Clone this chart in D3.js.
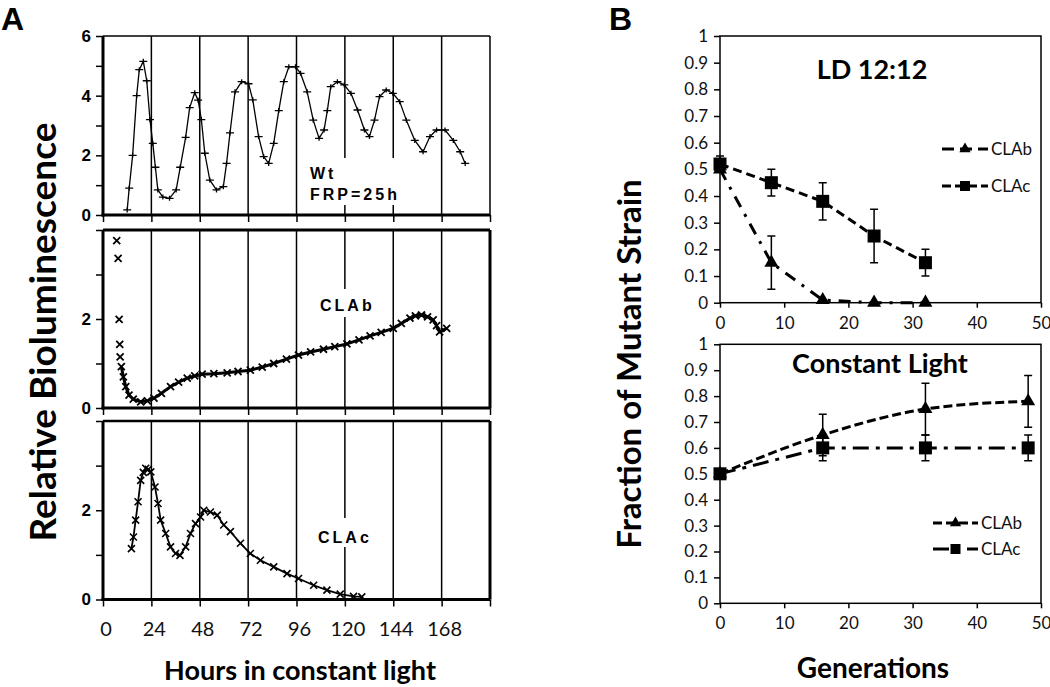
<!DOCTYPE html>
<html><head><meta charset="utf-8">
<script src="https://cdn.jsdelivr.net/npm/d3@7"></script>
<style>body{margin:0;background:#fff} svg{display:block}</style>
</head><body>
<svg id="c" width="1050" height="687"></svg>
<script>
// ---------- Panel A data (hours, relative bioluminescence) ----------
const hourTicks = [0, 24, 48, 72, 96, 120, 144, 168, 192];
const hourLabels = ["0", "24", "48", "72", "96", "120", "144", "168", ""];
const wtSeries = [[12,0.17],[13,0.9],[14.7,2.0],[16.7,4.0],[18,4.87],[20,5.15],[21.7,4.5],[23.3,3.2],[24.7,2.4],[26,1.6],[27.2,0.84],[29.7,0.6],[33,0.56],[36.3,0.84],[38.3,1.6],[41,2.6],[43,3.6],[45.5,4.1],[47.2,3.85],[48.8,3.2],[50.5,2.07],[53,1.17],[56.3,0.84],[59.7,0.95],[61.3,1.73],[63,2.75],[65.5,4.13],[68.8,4.47],[72.2,4.4],[74.3,3.86],[77.2,2.63],[79.7,1.96],[82.2,1.73],[84.7,2.4],[87.2,3.5],[89.7,4.47],[92.2,4.97],[95.5,4.97],[98,4.75],[101.3,4.13],[104.3,3.18],[107.2,2.57],[109.7,2.85],[111.3,3.5],[113,4.3],[116.3,4.47],[119.7,4.36],[123,4.08],[126.3,3.52],[129.7,2.85],[132.2,2.63],[134.7,3.18],[137.2,3.97],[140.5,4.19],[143.8,4.08],[147.2,3.8],[150.5,3.18],[154.7,2.5],[158.8,2.12],[162.2,2.63],[165.5,2.85],[169.7,2.85],[173.8,2.5],[177.2,2.12],[179.7,1.73]];
const clabEarly = [[6.8,3.76],[7.5,3.36],[8,1.99],[8.3,1.43],[8.5,1.15]];
const clabSeries = [[9.1,0.93],[10.1,0.70],[11.3,0.48],[12.9,0.29],[15,0.2],[18.7,0.14],[22,0.16],[25.3,0.22],[29,0.33],[33.5,0.48],[37.5,0.58],[41.8,0.67],[45.5,0.72],[49.2,0.76],[55,0.77],[61.6,0.79],[67,0.82],[73.1,0.85],[79,0.92],[84.7,1.0],[91,1.1],[97,1.19],[103,1.26],[109.4,1.32],[115,1.38],[121,1.44],[127,1.53],[132.5,1.62],[138,1.7],[144,1.79],[148,1.9],[152.3,2.02],[155,2.07],[158,2.09],[161,2.05],[163.8,1.98],[165.5,1.85],[167,1.71],[170.5,1.79]];
const clacSeries = [[14.1,1.14],[15.1,1.40],[16.2,1.78],[17.4,2.19],[18.7,2.67],[20,2.85],[21.2,2.94],[22.5,2.92],[23.7,2.86],[25.8,2.52],[27.3,2.15],[28.6,1.78],[31.1,1.48],[33.5,1.18],[36,1.03],[38.2,0.99],[41,1.18],[43.4,1.48],[45.9,1.70],[48.4,1.85],[50,2.0],[53.3,1.96],[56.7,1.89],[59.9,1.67],[63.2,1.52],[68.2,1.26],[73.1,1.03],[78.1,0.88],[84.7,0.73],[91.3,0.58],[97,0.47],[104.5,0.32],[111.1,0.21],[117.7,0.12],[124.3,0.07],[128.4,0.06]];

// ---------- Panel B data ----------
const genTicks = [0, 10, 20, 30, 40, 50];
const fracTicks = [0, 0.1, 0.2, 0.3, 0.4, 0.5, 0.6, 0.7, 0.8, 0.9, 1];
const ldGenerations = [0, 8, 16, 24, 32];
const ldClabMean = [0.50, 0.15, 0.01, 0.0, 0.0];
const ldClabErr = [0, 0.10, 0, 0, 0];
const ldClacMean = [0.52, 0.45, 0.38, 0.25, 0.15];
const ldClacErr = [0.03, 0.05, 0.07, 0.10, 0.05];
const clGenerations = [0, 16, 32, 48];
const clClabMean = [0.50, 0.65, 0.75, 0.78];
const clClabErr = [0, 0.08, 0.10, 0.10];
const clClacMean = [0.50, 0.60, 0.60, 0.60];
const clClacErr = [0, 0.05, 0.05, 0.05];

const svg = d3.select("#c");
const ARIAL = "'Liberation Sans', Arial, sans-serif";
const CAL = "Lato, 'Open Sans', sans-serif";

// ================= PANEL A =================
const xA = d3.scaleLinear().domain([0, 192]).range([103, 490]);
const subs = [
  {dom: 6, r: [215, 36], labels: [0, 2, 4, 6], data: wtSeries, marker: "plus", lw: 1.3, ms: 1.3,
   border: {top: 1.5, right: 1.5}, text: ["Wt", "FRP=25h"], tx: 310, ty: [179, 200], bg: [306, 158, 98, 47]},
  {dom: 4, r: [408, 230], labels: [0, 2], data: clabSeries, early: clabEarly, marker: "x", lw: 3, ms: 1.8,
   border: {top: 3, right: 3}, text: ["CLAb"], tx: 320, ty: [311], bg: [318, 289, 58, 28]},
  {dom: 4, r: [599.5, 421], labels: [0, 2], data: clacSeries, marker: "x", lw: 1.8, ms: 1.6,
   border: {top: 2.5, right: 3}, text: ["CLAc"], tx: 318, ty: [543], bg: [316, 518, 58, 29]}
];
const plusPath = "M-4,0H4M0,-2.5V2.5";
const xPath = "M-3.5,-3.5L3.5,3.5M-3.5,3.5L3.5,-3.5";

subs.forEach(s => {
  const y = d3.scaleLinear().domain([0, s.dom]).range(s.r);
  const g = svg.append("g");
  const top = s.r[1], bot = s.r[0];
  g.selectAll(".grid").data(hourTicks.filter(d => d > 0 && d < 192)).join("line")
    .attr("x1", d => xA(d)).attr("x2", d => xA(d)).attr("y1", top).attr("y2", bot)
    .attr("stroke", "#000").attr("stroke-width", 1.5);
  g.append("rect").attr("x", s.bg[0]).attr("y", s.bg[1]).attr("width", s.bg[2]).attr("height", s.bg[3]).attr("fill", "#fff");
  g.append("line").attr("x1", xA(0)).attr("x2", xA(192)).attr("y1", top).attr("y2", top)
    .attr("stroke", "#000").attr("stroke-width", s.border.top);
  g.append("line").attr("x1", xA(192)).attr("x2", xA(192)).attr("y1", top).attr("y2", bot)
    .attr("stroke", "#000").attr("stroke-width", s.border.right);
  const ay = g.append("g").attr("transform", `translate(${xA(0)},0)`)
    .call(d3.axisLeft(y).tickValues(d3.range(0, s.dom + 1)).tickSize(7).tickSizeOuter(0).tickPadding(5)
      .tickFormat(d => s.labels.includes(d) ? d : ""));
  ay.select(".domain").remove();
  ay.selectAll(".tick line").attr("stroke-width", 1.5);
  ay.selectAll("text").attr("font-family", ARIAL).attr("font-weight", "bold").attr("font-size", 17).attr("fill", "#000");
  const ax = g.append("g").attr("transform", `translate(0,${bot})`)
    .call(d3.axisBottom(xA).tickValues(hourTicks).tickSize(7).tickSizeOuter(0).tickFormat(""));
  ax.select(".domain").remove();
  ax.selectAll(".tick line").attr("stroke-width", 1.5);
  g.append("line").attr("x1", xA(0)).attr("x2", xA(0)).attr("y1", top).attr("y2", bot + 1.5)
    .attr("stroke", "#000").attr("stroke-width", 3);
  g.append("line").attr("x1", xA(0) - 1.5).attr("x2", xA(192)).attr("y1", bot).attr("y2", bot)
    .attr("stroke", "#000").attr("stroke-width", 3);
  const line = d3.line().x(d => xA(d[0])).y(d => y(d[1]));
  g.append("path").datum(s.data).attr("d", line).attr("fill", "none")
    .attr("stroke", "#000").attr("stroke-width", s.lw).attr("stroke-linejoin", "round");
  const pts = s.data.concat(s.early || []);
  g.selectAll(".m").data(pts).join("path")
    .attr("transform", d => `translate(${xA(d[0])},${y(d[1])})`)
    .attr("d", s.marker === "plus" ? plusPath : xPath)
    .attr("stroke", "#000").attr("stroke-width", s.ms).attr("fill", "none");
  s.text.forEach((t, i) => {
    g.append("text").attr("x", s.tx).attr("y", s.ty[i]).text(t)
      .attr("font-family", ARIAL).attr("font-weight", "bold").attr("font-size", 16)
      .attr("letter-spacing", 3).attr("fill", "#000");
  });
});
svg.append("g").selectAll("text").data(hourTicks.slice(0, 8)).join("text")
  .attr("x", d => xA(d) + 3).attr("y", 636).attr("text-anchor", "middle")
  .attr("font-family", CAL).attr("font-size", 20).attr("fill", "#111")
  .text((d, i) => hourLabels[i]);
svg.append("text").attr("x", 300).attr("y", 680).attr("text-anchor", "middle")
  .attr("font-family", CAL).attr("font-weight", "bold").attr("font-size", 27).text("Hours in constant light");
svg.append("text").attr("transform", "translate(56,332) rotate(-90)").attr("text-anchor", "middle")
  .attr("font-family", CAL).attr("font-weight", "bold").attr("font-size", 37).text("Relative Bioluminescence");
svg.append("text").attr("x", 1).attr("y", 30).attr("font-family", ARIAL).attr("font-weight", "bold")
  .attr("font-size", 32).text("A");
svg.append("text").attr("x", 609).attr("y", 30).attr("font-family", ARIAL).attr("font-weight", "bold")
  .attr("font-size", 32).text("B");

// ================= PANEL B =================
const xB = d3.scaleLinear().domain([0, 50]).range([720, 1041]);
const tri = d3.symbol().type(d3.symbolTriangle).size(85)();
const sq = "M-6.5,-6.5H6.5V6.5H-6.5Z";
const panelsB = [
  {r: [302.7, 36], title: "LD 12:12", tx: 872, ty: 79, gens: ldGenerations,
   series: [
     {name: "CLAb", mean: ldClabMean, err: ldClabErr, marker: tri, dash: "12,8,3,8", curve: d3.curveLinear},
     {name: "CLAc", mean: ldClacMean, err: ldClacErr, marker: sq, dash: "9,5", curve: d3.curveLinear}],
   legend: [{x1: 942, x2: 988, y: 149, dash: "12,6"}, {x1: 942, x2: 988, y: 186, dash: "9,4"}]},
  {r: [603.3, 344.3], title: "Constant Light", tx: 880, ty: 373, gens: clGenerations,
   series: [
     {name: "CLAb", mean: clClabMean, err: clClabErr, marker: tri, dash: "9,4", curve: d3.curveMonotoneX},
     {name: "CLAc", mean: clClacMean, err: clClacErr, marker: sq, dash: "16,7,4,7", curve: d3.curveLinear}],
   legend: [{x1: 933, x2: 978, y: 523, dash: "9,4"}, {x1: 933, x2: 978, y: 549, dash: "16,7,4,7"}]}
];
panelsB.forEach(p => {
  const y = d3.scaleLinear().domain([0, 1]).range(p.r);
  const g = svg.append("g");
  g.append("rect").attr("x", xB(0)).attr("y", y(1)).attr("width", xB(50) - xB(0)).attr("height", y(0) - y(1))
    .attr("fill", "none").attr("stroke", "#000").attr("stroke-width", 1.5);
  const ay = g.append("g").attr("transform", `translate(${xB(0)},0)`)
    .call(d3.axisLeft(y).tickValues(fracTicks).tickSize(6).tickSizeOuter(0).tickPadding(6)
      .tickFormat(d => (d === 0 || d === 1) ? d3.format("d")(d) : d3.format(".1f")(d)));
  ay.select(".domain").remove();
  ay.selectAll(".tick line").attr("stroke-width", 1.5);
  ay.selectAll("text").attr("font-family", CAL).attr("font-size", 17).attr("fill", "#111");
  const ax = g.append("g").attr("transform", `translate(0,${y(0)})`)
    .call(d3.axisBottom(xB).tickValues(genTicks).tickSize(5).tickSizeOuter(0).tickPadding(9));
  ax.select(".domain").remove();
  ax.selectAll(".tick line").attr("stroke-width", 1.5);
  ax.selectAll("text").attr("font-family", CAL).attr("font-size", 17).attr("fill", "#111");
  g.append("text").attr("x", p.tx).attr("y", p.ty).attr("text-anchor", "middle")
    .attr("font-family", CAL).attr("font-weight", "bold").attr("font-size", 27).text(p.title);
  p.series.forEach((s, si) => {
    const pts = p.gens.map((gv, i) => ({g: gv, m: s.mean[i], e: s.err[i]}));
    g.append("path").datum(pts)
      .attr("d", d3.line().curve(s.curve).x(d => xB(d.g)).y(d => y(d.m)))
      .attr("fill", "none").attr("stroke", "#000").attr("stroke-width", 3).attr("stroke-dasharray", s.dash);
    const eb = pts.filter(d => d.e > 0);
    g.selectAll(null).data(eb).join("path")
      .attr("d", d => `M${xB(d.g)},${y(d.m - d.e)}V${y(d.m + d.e)}M${xB(d.g) - 4},${y(d.m - d.e)}H${xB(d.g) + 4}M${xB(d.g) - 4},${y(d.m + d.e)}H${xB(d.g) + 4}`)
      .attr("stroke", "#000").attr("stroke-width", 1.5).attr("fill", "none");
    g.selectAll(null).data(pts).join("path")
      .attr("transform", d => `translate(${xB(d.g)},${y(d.m)})`).attr("d", s.marker).attr("fill", "#000");
    const L = p.legend[si];
    g.append("line").attr("x1", L.x1).attr("x2", L.x2).attr("y1", L.y).attr("y2", L.y)
      .attr("stroke", "#000").attr("stroke-width", 3).attr("stroke-dasharray", L.dash);
    g.append("path").attr("transform", `translate(${(L.x1 + L.x2) / 2},${L.y})`)
      .attr("d", si === 0 ? d3.symbol().type(d3.symbolTriangle).size(55)() : "M-5,-5H5V5H-5Z").attr("fill", "#000");
    g.append("text").attr("x", L.x2 + 3).attr("y", L.y + 6).attr("font-family", CAL).attr("font-size", 17)
      .attr("fill", "#111").text(s.name);
  });
});
svg.append("text").attr("x", 873).attr("y", 678).attr("text-anchor", "middle")
  .attr("font-family", CAL).attr("font-weight", "bold").attr("font-size", 28).text("Generations");
svg.append("text").attr("transform", "translate(641,364) rotate(-90)").attr("text-anchor", "middle")
  .attr("font-family", CAL).attr("font-weight", "bold").attr("font-size", 33).text("Fraction of Mutant Strain");
</script>
</body></html>
